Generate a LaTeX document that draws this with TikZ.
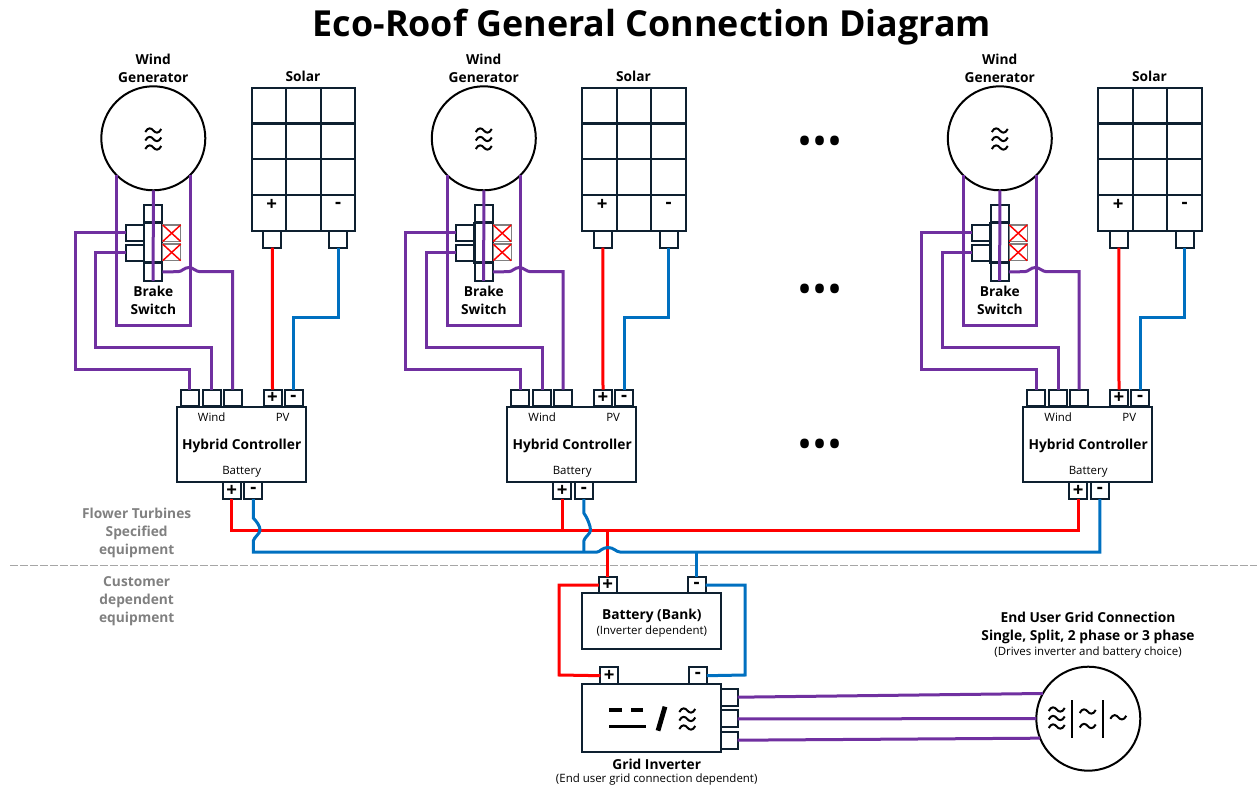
\documentclass[tikz,border=0pt]{standalone}
\usepackage{fontspec}
\setmainfont{Open Sans}
\definecolor{wirep}{HTML}{7030A0}
\definecolor{wireb}{HTML}{0070C0}
\definecolor{wirer}{HTML}{FF0000}
\definecolor{inkbox}{HTML}{0E2030}
\definecolor{graytxt}{HTML}{808080}
\tikzset{
    mybox/.style = {rectangle, draw=inkbox, line width=1.5pt, inner sep=0pt, outer sep=0pt},
    myterm/.style = {mybox, minimum width=13.5pt, minimum height=12.6pt, font=\fontsize{14}{14}\selectfont\bfseries},
    myxbox/.style = {rectangle, draw=gray, line width=1pt, inner sep=0pt, outer sep=0pt, minimum width=13.5pt, minimum height=12.4pt},
    mycell/.style = {mybox, minimum width=25.8pt, minimum height=26.8pt},
    myring/.style = {circle, draw=black, line width=1.5pt, minimum size=78pt, inner sep=0pt, outer sep=0pt},
    txtb/.style = {align=center, inner sep=0pt, font=\fontsize{10.3}{13.5}\selectfont\bfseries},
    txts/.style = {align=center, inner sep=0pt, font=\fontsize{8.6}{11}\selectfont},
    txtg/.style = {txtb, text=graytxt},
    edgep/.style = {line width=2.25pt, wirep},
    edger/.style = {line width=2.25pt, wirer},
    edgeb/.style = {line width=2.25pt, wireb},
    edgek/.style = {line width=1.5pt, black},
    wavy/.pic = {\draw[edgek] (-8,1.5) .. controls (-5.3,-3.7) and (-2,-2.5) .. (0,0) .. controls (2,2.5) and (5.3,3.7) .. (8,-1.5);},
    wavythree/.pic = {\pic at (0,-8.5) {wavy}; \pic at (0,0) {wavy}; \pic at (0,8.5) {wavy};}
}
\begin{document}
\begin{tikzpicture}[x=0.75pt,y=-0.75pt]
\useasboundingbox (0,0) rectangle (1257,788);
%
\node[inner sep=0pt,font=\fontsize{26.9}{30}\selectfont\bfseries] at (652,27.5) (title) {Eco-Roof General Connection Diagram};
%
\foreach \u/\ux in {a/0,b/330.5,c/846.5}{
  % generator and brake switch
  \node[myring] at (\ux+153.3,138.3) (gen\u) {};
  \pic at (\ux+153.3,139) {wavythree};
  \node[txtb] at (\ux+153.3,68) (gent\u) {Wind\\Generator};
  \node[mybox,minimum width=13.8pt,minimum height=56.8pt] at (\ux+153.2,243) (swa\u) {};
  \node[mybox,minimum width=13.8pt,minimum height=30pt,line width=1.6pt] at (\ux+153.2,242.7) (swb\u) {};
  \draw[line width=2.2pt,inkbox] (swb\u.north west) -- (swb\u.north east);
  \draw[line width=2.2pt,inkbox] (swb\u.south west) -- (swb\u.south east);
  \node[myterm,minimum height=11.6pt] at (\ux+134.5,233) (bka\u) {};
  \node[myterm,minimum height=11.6pt] at (\ux+134.5,252.8) (bkb\u) {};
  \node[myxbox] at (\ux+171.7,233.2) (xa\u) {};
  \node[myxbox] at (\ux+171.7,252.4) (xb\u) {};
  \draw[wirer,line width=1.1pt] (xa\u.north west) -- (xa\u.south east);
  \draw[wirer,line width=1.1pt] (xa\u.south west) -- (xa\u.north east);
  \draw[wirer,line width=1.1pt] (xb\u.north west) -- (xb\u.south east);
  \draw[wirer,line width=1.1pt] (xb\u.south west) -- (xb\u.north east);
  \node[txtb] at (\ux+153.3,300.5) (brk\u) {Brake\\Switch};
  % solar panel
  \node[txtb] at (\ux+303,76.7) (solt\u) {Solar};
  \foreach \r in {0,...,3}
    \foreach \c in {0,1,2}
      \node[mycell] at (\ux+269+\c*34.4,105.6+\r*35.8) (sol\u\r\c) {};
  \node[inner sep=0pt,font=\fontsize{14}{14}\selectfont\bfseries] at (\ux+271.7,205) (sp\u) {+};
  \node[inner sep=0pt,font=\fontsize{14}{14}\selectfont\bfseries] at (\ux+338,205) (sm\u) {-};
  \node[myterm] at (\ux+272.3,239.3) (tp\u) {};
  \node[myterm] at (\ux+338,239.3) (tm\u) {};
  % controller
  \node[mybox,minimum width=96.7pt,minimum height=56.7pt] at (\ux+241.2,444.5) (ctl\u) {};
  \node[txtb] at (\ux+241.7,446) (ctlt\u) {Hybrid Controller};
  \node[txts] at (\ux+211.7,417.5) (wl\u) {Wind};
  \node[txts] at (\ux+282.7,417.5) (pl\u) {PV};
  \node[txts] at (\ux+241.7,472) (bl\u) {Battery};
  \node[myterm] at (\ux+189.7,398) (wa\u) {};
  \node[myterm] at (\ux+211.5,398) (wb\u) {};
  \node[myterm] at (\ux+232.7,398) (wc\u) {};
  \node[myterm] at (\ux+272.5,398) (pp\u) {+};
  \node[myterm] at (\ux+293.5,398) (pm\u) {-};
  \node[myterm] at (\ux+231.8,490.7) (bp\u) {+};
  \node[myterm] at (\ux+253.3,490.7) (bm\u) {-};
  % wires of one unit
  \draw[edgep] (gen\u.south) -- (swa\u.south);
  \draw[edgep] (gen\u.225) -- ++(0,150.2) -| (gen\u.315);
  \draw[edgep] (bka\u.west) -| (\ux+75,369.3) -| (wa\u.north);
  \draw[edgep] (bkb\u.west) -| (\ux+95.7,347.3) -| (wb\u.north);
  \draw[edgep] ([yshift=6.75pt]swa\u.south east) -- (\ux+178,271.7) .. controls (\ux+182,271.7) and (\ux+184,267.5) .. (\ux+189,267.5) .. controls (\ux+193,267.5) and (\ux+196,271.7) .. (\ux+200,271.7) -| (wc\u.north);
  \draw[edger] (tp\u.south) -- (pp\u.north);
  \draw[edgeb] (tm\u.south) |- (\ux+293.5,317.7) -- (pm\u.north);
}
%
\node[txtg] at (136.7,532.5) (flt) {Flower Turbines\\Specified\\equipment};
\node[txtg] at (136.7,601.5) (cst) {Customer\\dependent\\equipment};
\draw[gray!70,line width=1.1pt,dash pattern=on 6pt off 1.5pt] (10,565.7) coordinate (dla) -- (1257,565.7) coordinate (dlb);
\node[inner sep=0pt,font=\fontsize{30}{30}\selectfont] at (820,146) (dta) {•••};
\node[inner sep=0pt,font=\fontsize{30}{30}\selectfont] at (820,294) (dtb) {•••};
\node[inner sep=0pt,font=\fontsize{30}{30}\selectfont] at (820,449) (dtc) {•••};
%
% battery bank and inverter
\node[mybox,minimum width=104.2pt,minimum height=41.7pt] at (651.8,621.2) (bat) {};
\node[txtb] at (651.8,615.5) (batt) {Battery (Bank)};
\node[txts] at (651.8,631.5) (bats) {(Inverter dependent)};
\node[myterm] at (607.8,585) (btp) {+};
\node[myterm] at (696.5,585) (btm) {-};
\node[mybox,minimum width=104.2pt,minimum height=51.2pt] at (651.8,718.2) (inv) {};
\node[myterm] at (609.3,675.7) (ivp) {+};
\node[myterm] at (697.8,675.7) (ivm) {-};
\node[myterm,minimum width=12.2pt] at (729.5,697.2) (oa) {};
\node[myterm,minimum width=12.2pt] at (729.5,718.8) (ob) {};
\node[myterm,minimum width=12.2pt] at (729.5,740.2) (oc) {};
\node[txtb] at (656.7,764) (invt) {Grid Inverter};
\node[txts] at (656.7,779.8) (invs) {(End user grid connection dependent)};
\coordinate (dca) at (609.3,710);
\coordinate (dcb) at (621.7,710);
\coordinate (dcc) at (631,710);
\coordinate (dcd) at (643.3,710);
\coordinate (dce) at (609.3,726.7);
\coordinate (dcf) at (646,726.7);
\coordinate (sla) at (658,730.7);
\coordinate (slb) at (665,706.7);
\draw[black,line width=2.3pt] (dca) -- (dcb);
\draw[black,line width=2.3pt] (dcc) -- (dcd);
\draw[black,line width=2.6pt] (dce) -- (dcf);
\draw[black,line width=3.6pt] (sla) -- (slb);
\pic at (687.3,719) {wavythree};
%
% grid connection
\node[myring] at (1088.3,718.7) (grid) {};
\node[txtb] at (1088,627.5) (gridt) {End User Grid Connection\\Single, Split, 2 phase or 3 phase};
\node[txts] at (1088,652.8) (grids) {(Drives inverter and battery choice)};
\pic at (1056.7,718) {wavythree};
\pic at (1087.7,711.5) {wavy};
\pic at (1087.7,726) {wavy};
\pic at (1118.3,717.3) {wavy};
\coordinate (bra) at (1072,700);
\coordinate (brb) at (1072,738);
\coordinate (brc) at (1103.3,700);
\coordinate (brd) at (1103.3,738);
\draw[black,line width=1.6pt] (bra) -- (brb);
\draw[black,line width=1.6pt] (brc) -- (brd);
\draw[edgep] (oa.east) -- (grid.151);
\draw[edgep] (ob.east) -- (grid.west);
\draw[edgep] (oc.east) -- (grid.202);
%
% battery bus
\coordinate (rj) at (607.8,530.7);
\coordinate (bjb) at (583.8,552);
\coordinate (bjs) at (696.5,552);
\draw[edger] (bpa.south) |- (rj) -| (bpc.south);
\draw[edger] (bpb.south) -- (bpb.south |- rj);
\draw[edger] (rj) -- (btp.north);
\draw[edger] (btp.west) -| (559,675) -- (ivp.west);
\draw[edgeb] (btm.east) -| (745,675) -- (ivm.east);
\draw[edgeb] (bma.south) -- (253.3,518) .. controls (257,522) and (260,526) .. (260,530) .. controls (260,534) and (254,537) .. (253.3,541) |- (bjb) -- (597,552) .. controls (600,552) and (602,547.5) .. (608,547.5) .. controls (614,547.5) and (616,552) .. (620,552) -| (bmc.south);
\draw[edgeb] (bmb.south) -- (583.8,513) .. controls (587.5,518) and (590.5,526) .. (590.5,530) .. controls (590.5,534) and (584.5,537) .. (583.8,541) -- (bjb);
\draw[edgeb] (bjs) -- (btm.north);
\end{tikzpicture}
\end{document}
